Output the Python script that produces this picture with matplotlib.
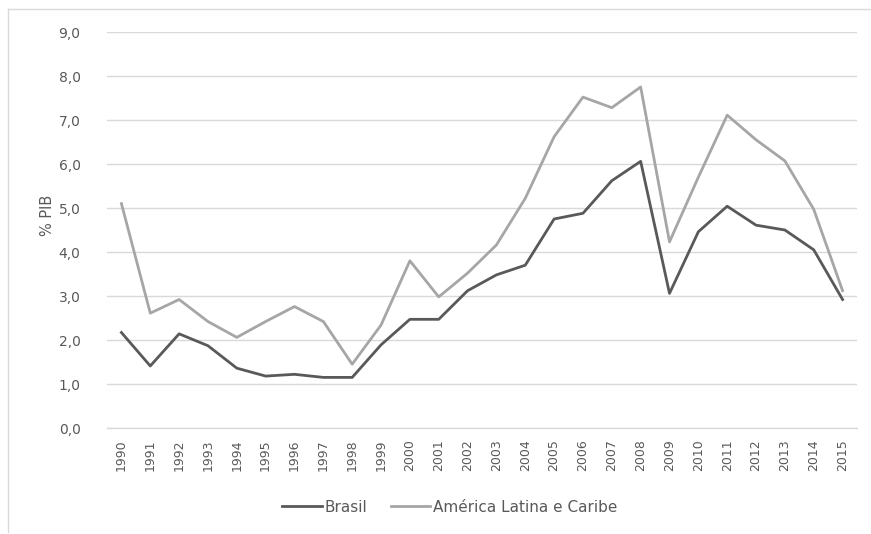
import matplotlib
matplotlib.use("Agg")
import matplotlib.pyplot as plt
from matplotlib.lines import Line2D

years = [str(y) for y in range(1990, 2016)]
brasil = [2.17, 1.41, 2.14, 1.87, 1.36, 1.18, 1.22, 1.15, 1.15, 1.89,
          2.47, 2.47, 3.12, 3.48, 3.70, 4.75, 4.88, 5.62, 6.06, 3.06,
          4.46, 5.04, 4.61, 4.50, 4.05, 2.92]
alc = [5.10, 2.61, 2.92, 2.42, 2.06, 2.42, 2.76, 2.42, 1.45, 2.34,
       3.80, 2.98, 3.52, 4.16, 5.22, 6.62, 7.52, 7.28, 7.75, 4.23,
       5.70, 7.11, 6.55, 6.07, 4.97, 3.12]
yticks = [0, 1, 2, 3, 4, 5, 6, 7, 8, 9]
ytick_labels = ["0,0", "1,0", "2,0", "3,0", "4,0", "5,0", "6,0", "7,0", "8,0", "9,0"]

W, H = 871, 534
fig = plt.figure(figsize=(W / 100, H / 100), dpi=100)
fig.patch.set_facecolor("white")
# outer chart frame: only top and left edges visible
fig.add_artist(Line2D([8 / W, 1.0], [1 - 9 / H, 1 - 9 / H], transform=fig.transFigure,
                      color="#D9D9D9", linewidth=1))
fig.add_artist(Line2D([8 / W, 8 / W], [1 - 9 / H, 1 - 532 / H], transform=fig.transFigure,
                      color="#D9D9D9", linewidth=1))

left, right, top, bottom = 107, 857, 32, 428
ax = fig.add_axes([left / W, 1 - bottom / H, (right - left) / W, (bottom - top) / H])
x = list(range(len(years)))
ax.plot(x, brasil, color="#595959", linewidth=2.0, label="Brasil", solid_joinstyle="round")
ax.plot(x, alc, color="#A6A6A6", linewidth=2.0, label="América Latina e Caribe", solid_joinstyle="round")

ax.set_xlim(-0.5, len(years) - 0.5)
ax.set_ylim(0, 9)
ax.set_yticks(yticks)
ax.set_yticklabels(ytick_labels, fontsize=10, color="#595959", family="DejaVu Sans")
ax.set_xticks(x)
ax.set_xticklabels(years, rotation=90, fontsize=9, color="#595959", family="DejaVu Sans")
ax.tick_params(axis="both", length=0)
ax.tick_params(axis="y", pad=19)
ax.tick_params(axis="x", pad=8)
ax.grid(axis="y", color="#D9D9D9", linewidth=1)
ax.set_axisbelow(True)
for s in ["left", "right", "top"]:
    ax.spines[s].set_visible(False)
ax.spines["bottom"].set_color("#D9D9D9")
ax.spines["bottom"].set_linewidth(1)

fig.text(47 / W, 1 - 215 / H, "% PIB", rotation=90, ha="center", va="center",
         fontsize=10.5, color="#595959", family="DejaVu Sans")

leg = fig.legend(loc="center", bbox_to_anchor=(450 / W, 1 - 507 / H), ncol=2, frameon=False,
                 handlelength=2.6, handletextpad=0.2, columnspacing=1.5,
                 prop={"family": "DejaVu Sans", "size": 11})
for t in leg.get_texts():
    t.set_color("#595959")

fig.savefig("out.png", dpi=100, facecolor="white")
